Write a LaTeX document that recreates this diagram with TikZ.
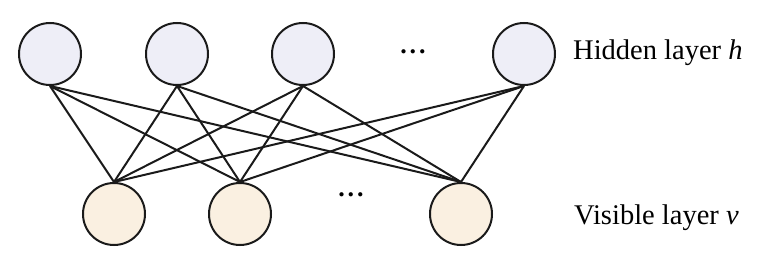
\documentclass[tikz,border=0pt]{standalone}
\usepackage{fontspec}
\setmainfont{Liberation Serif}
\definecolor{hidfill}{HTML}{EEEEF7}
\definecolor{visfill}{HTML}{FAF0E1}
\definecolor{edgecol}{HTML}{1A1A1A}
\begin{document}
\begin{tikzpicture}[x=1pt,y=-1pt,
  unit/.style={circle, draw=edgecol, line width=2pt, minimum size=62pt, inner sep=0pt},
  hid/.style={unit, fill=hidfill},
  vis/.style={unit, fill=visfill},
  conn/.style={draw=edgecol, line width=2pt},
  lbl/.style={anchor=base west, inner sep=0pt, font=\fontsize{28.5}{31}\selectfont},
  dotsl/.style={font=\fontsize{26}{28}\selectfont\bfseries, inner sep=0pt}]
\useasboundingbox (0,0) rectangle (779,259);
\node[hid] (h1) at (50,54) {};
\node[hid] (h2) at (177,54) {};
\node[hid] (h3) at (303,54) {};
\node[hid] (h4) at (524,54) {};
\node[vis] (v1) at (114,214) {};
\node[vis] (v2) at (240,214) {};
\node[vis] (v3) at (461,214) {};
\node[dotsl] (hd) at (413,52) {.\hspace{3pt}.\hspace{3pt}.};
\node[dotsl] (vd) at (351,195) {.\hspace{3pt}.\hspace{3pt}.};
\node[lbl] (hl) at (573,60) {Hidden layer \textit{h}};
\node[lbl] (vl) at (574,224) {Visible layer \textit{v}};
\foreach \h in {h1,h2,h3,h4}{
  \foreach \v in {v1,v2,v3}{
    \draw[conn] (\h.south) -- (\v.north);
  }
}
\end{tikzpicture}
\end{document}
